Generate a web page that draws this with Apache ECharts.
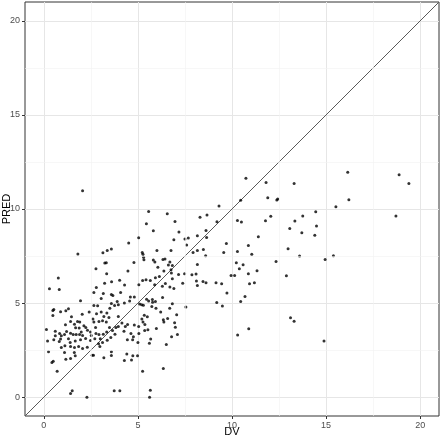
<!DOCTYPE html>
<html>
<head>
<meta charset="utf-8">
<script src="https://cdn.jsdelivr.net/npm/echarts@6/dist/echarts.min.js"></script>
<style>
html,body{margin:0;padding:0;background:#fff;}
#chart{width:440px;height:439px;}
</style>
</head>
<body>
<div id="chart"></div>
<script>
const axisLimits = [-1, 21];
const majorTicks = [0, 5, 10, 15, 20];
const minorTicks = [2.5, 7.5, 12.5, 17.5];
const xTitle = 'DV';
const yTitle = 'PRED';

const dv = [
2.66,3.16,3.05,3.59,3.67,3.90,1.95,0.53,0.48,0.89,1.17,1.31,0.48,1.47,2.04,2.41,2.66,2.86,2.80,3.05,
3.35,3.51,3.59,3.76,3.96,3.96,3.46,3.19,2.61,2.66,2.93,3.12,3.32,1.15,1.42,1.63,1.79,1.91,2.13,1.69,
1.88,1.99,2.23,2.32,2.48,2.75,0.14,0.61,0.84,1.10,1.21,1.42,1.56,1.72,1.90,2.06,0.61,0.93,0.53,0.89,
0.20,0.82,1.31,1.40,1.67,1.95,2.22,2.52,2.77,2.93,3.16,3.34,3.49,3.65,3.83,3.96,2.48,2.71,3.00,3.12,
3.37,3.56,3.78,0.93,1.12,1.42,1.63,1.85,2.06,2.31,2.91,2.98,1.62,1.10,0.25,1.67,2.57,2.64,3.19,3.59,
3.59,1.17,1.42,0.50,0.43,
0.71,1.51,1.42,2.29,3.74,4.04,5.66,5.62,5.25,
1.81,3.14,3.37,3.59,3.24,3.32,2.77,3.34,0.77,3.23,3.60,4.03,0.30,0.82,2.79,2.06,
4.08,4.60,4.81,4.56,4.28,5.46,5.77,5.57,5.78,5.93,6.31,5.09,5.20,5.29,5.74,5.96,6.83,6.69,7.55,6.21,
7.06,5.34,5.50,5.21,6.35,6.58,6.38,6.95,5.27,5.37,4.45,4.81,5.04,4.33,4.15,5.98,5.53,5.36,4.26,4.63,
5.05,6.99,7.10,6.79,4.76,4.44,4.72,5.00,5.68,5.61,6.51,4.41,4.73,4.98,4.28,4.66,6.35,
5.57,6.56,5.45,6.97,5.82,7.18,8.30,5.04,4.51,7.50,7.68,6.91,7.59,5.23,5.27,5.30,5.32,6.01,6.76,7.93,
8.16,4.79,5.82,5.90,6.33,6.44,6.70,6.62,6.06,6.83,4.47,6.38,6.76,6.78,6.14,7.16,7.48,7.87,8.09,6.83,
5.93,5.66,5.43,5.25,5.05,6.46,6.70,6.91,7.38,8.11,8.16,4.29,5.89,6.30,
10.74,11.81,11.90,12.38,12.43,10.46,9.31,8.67,9.20,10.29,10.50,11.78,12.06,8.62,8.16,8.65,11.40,9.70,10.87,8.48,
9.56,10.29,11.05,8.60,12.34,8.16,10.23,10.59,10.39,11.33,10.87,9.95,10.14,11.19,10.93,8.62,8.46,9.15,9.45,
9.73,10.69,10.46,9.19,9.49,13.11,13.30,10.89,10.30,
16.15,13.30,16.21,15.52,14.45,13.76,13.34,13.07,14.49,13.71,14.40,12.98,13.59,15.39,14.95,12.89,14.89,
18.88,19.40,18.71
];
const pred = [
5.56,5.51,5.24,5.46,5.40,5.09,5.12,4.66,4.61,4.54,4.59,4.70,4.34,4.27,4.41,4.52,4.87,4.86,4.43,4.52,
4.47,4.73,4.98,4.87,4.91,4.29,4.23,4.29,4.15,3.99,4.02,4.06,3.99,3.85,4.02,3.88,4.02,3.99,3.79,3.69,
3.67,3.47,3.70,3.56,3.47,3.70,3.60,3.51,3.38,3.33,3.49,3.40,3.33,3.33,3.33,3.28,3.26,3.26,3.05,3.09,
2.98,2.96,3.10,2.90,2.99,3.05,3.12,3.28,3.38,3.33,3.35,3.46,3.70,3.54,3.70,3.76,3.01,3.10,3.10,2.90,
3.03,3.17,3.35,2.64,2.73,2.69,2.64,2.69,2.59,2.66,2.84,2.69,2.37,2.37,2.41,2.20,2.23,2.23,2.09,2.41,
2.21,2.02,2.05,1.91,1.84,
1.38,0.34,0.19,0.00,0.34,0.34,0.37,0.00,1.38,
7.61,7.68,7.80,7.87,7.13,7.14,6.82,6.56,6.33,6.06,6.13,6.22,5.76,5.72,5.83,10.97,
5.56,5.32,5.32,5.11,5.00,5.21,5.19,5.11,5.05,5.09,5.30,4.95,4.91,4.89,4.82,4.73,4.96,4.73,4.79,4.52,
4.38,4.36,4.27,4.16,4.11,4.18,3.99,3.95,3.99,3.86,3.86,3.83,3.76,3.76,3.94,3.65,3.58,3.54,3.51,3.38,
3.38,3.72,3.33,3.21,3.21,3.05,3.05,2.90,3.09,2.87,2.80,2.30,2.20,2.20,1.95,1.97,1.52,
9.87,9.75,9.22,9.34,8.85,8.78,9.56,8.47,8.19,8.40,8.46,8.37,8.09,7.69,7.59,7.43,7.30,7.80,7.80,7.69,
7.80,7.16,7.29,7.18,7.32,7.34,7.18,7.02,6.91,7.00,6.70,6.70,6.77,6.60,6.41,6.52,6.56,6.51,6.54,6.29,
6.35,6.20,6.24,6.20,5.97,6.04,5.85,5.78,6.06,6.17,5.94,5.96,5.97,5.90,
11.63,11.41,10.60,10.48,10.53,10.46,10.16,9.68,9.32,9.39,9.31,9.38,9.61,8.86,8.58,8.49,8.53,8.17,8.06,7.85,
7.69,7.74,7.59,7.52,7.21,7.05,7.14,7.04,6.82,6.72,6.56,6.47,6.47,6.08,6.03,6.08,6.15,6.08,6.03,
5.53,5.35,5.09,5.03,4.84,4.22,4.04,3.63,3.31,
11.95,11.35,10.49,10.12,9.86,9.63,9.36,8.97,9.10,8.74,8.60,7.89,7.50,7.52,7.32,6.45,2.99,
11.82,11.36,9.63
];

const points = dv.map((v, i) => [v, pred[i]]);
const font = '"Liberation Sans", Arial, sans-serif';

function axisCfg(name, gap) {
  return {
    type: 'value',
    min: axisLimits[0],
    max: axisLimits[1],
    name: name,
    nameLocation: 'middle',
    nameGap: gap,
    nameMoveOverlap: false,
    nameTextStyle: { fontFamily: font, fontSize: 11, color: '#000' },
    axisLine: { show: false, onZero: false },
    axisTick: { show: true, length: 3, customValues: majorTicks, lineStyle: { color: '#333', width: 1 } },
    axisLabel: { customValues: majorTicks, fontFamily: font, fontSize: 9, color: '#4d4d4d', margin: 5 },
    splitLine: { show: true, lineStyle: { color: '#e6e6e6', width: 1 } }
  };
}

const chart = echarts.init(document.getElementById('chart'), null, { renderer: 'canvas' });
chart.setOption({
  animation: false,
  backgroundColor: '#fff',
  grid: { left: 25, right: 1, top: 2, bottom: 23, containLabel: false, outerBoundsMode: 'none',
          show: true, borderColor: '#333', borderWidth: 1, backgroundColor: '#fff' },
  xAxis: axisCfg(xTitle, 10),
  yAxis: axisCfg(yTitle, 12.5),
  series: [
    {
      type: 'line',
      data: [],
      z: 1,
      silent: true,
      markLine: {
        silent: true,
        symbol: ['none', 'none'],
        label: { show: false },
        lineStyle: { color: '#f2f2f2', width: 0.6, type: 'solid' },
        data: minorTicks.map(v => ({ xAxis: v })).concat(minorTicks.map(v => ({ yAxis: v })))
      }
    },
    {
      type: 'line',
      data: axisLimits.map(v => [v, v]),
      symbol: 'none',
      z: 2,
      silent: true,
      lineStyle: { color: '#5a5a5a', width: 1 }
    },
    {
      type: 'scatter',
      data: points,
      symbol: 'circle',
      symbolSize: 3,
      z: 3,
      itemStyle: { color: '#000' }
    }
  ]
});
</script>
</body>
</html>
